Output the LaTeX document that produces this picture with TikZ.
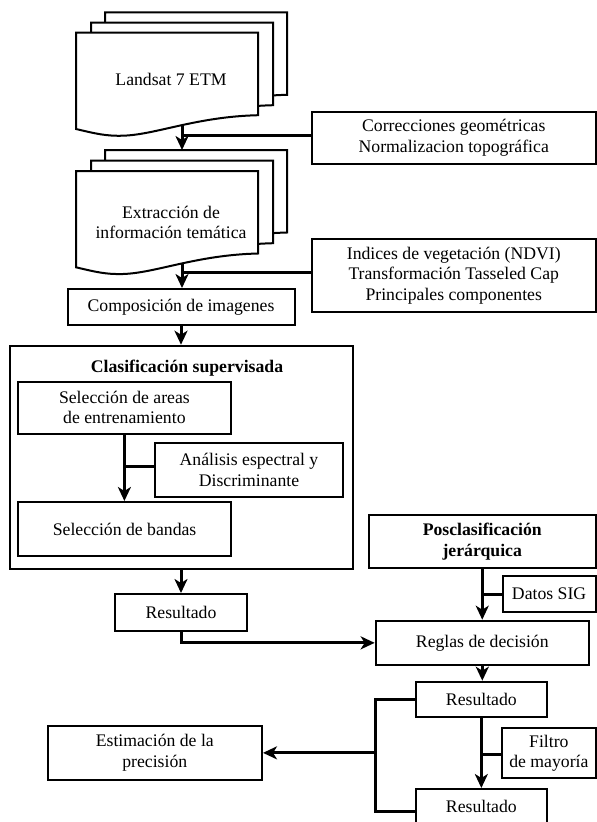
\documentclass[tikz,border=0pt]{standalone}
\usepackage{fontspec}
\setmainfont{Liberation Serif}
\usetikzlibrary{arrows.meta}
\begin{document}
\begin{tikzpicture}[x=1pt,y=-1pt,
  txt/.style={inner sep=0pt, align=center, font=\fontsize{17.7}{20.5}\selectfont},
  box/.style={txt, draw, line width=2pt, fill=white},
  bold/.style={font=\fontsize{17.7}{20.5}\selectfont\bfseries},
  conn/.style={line width=3pt, line join=miter},
  arr/.style={conn, -{Stealth[length=14pt,width=13pt,inset=4pt]}},
  docshape/.pic={\draw[line width=2pt, fill=white] (0,0) -- (182,0) -- (182,82.5)
     .. controls (120,84) and (80,102) .. (47,103)
     .. controls (30,103.5) and (20,101) .. (0,96.3) -- cycle;}
]
\useasboundingbox (0,0) rectangle (597,822);

% document stacks
\pic at (105,12.3) {docshape};
\pic at (91,22.7) {docshape};
\pic at (76,32.7) {docshape};
\pic at (105,150) {docshape};
\pic at (91,160.7) {docshape};
\pic at (76,171) {docshape};
\node[txt] (landsat) at (171,79) {Landsat 7 ETM};
\node[txt] (extr) at (171,222.5) {Extracción de\\información temática};

\coordinate (d1b) at (182,125);
\coordinate (d2t) at (182,150);
\coordinate (j1) at (182,135);
\coordinate (d2b) at (182,263);
\coordinate (j2) at (182,272.5);

% boxes
\node[box, minimum width=283.5, minimum height=52.3] (corr) at (453.75,137.85) {Correcciones geométricas\\Normalizacion topográfica};
\node[box, minimum width=283.5, minimum height=73.3] (ind) at (453.75,275.65) {Indices de vegetación (NDVI)\\Transformación Tasseled Cap\\Principales componentes};
\node[box, minimum width=227, minimum height=36] (comp) at (181,307) {Composición de imagenes};
\node[box, minimum width=343, minimum height=222.8] (clas) at (181.5,457.1) {};
\node[txt, bold] (clastitle) at (187,368) {Clasificación supervisada};
\node[box, minimum width=212.2, minimum height=52] (selA) at (124.4,407.5) {Selección de areas\\de entrenamiento};
\node[box, minimum width=188, minimum height=54] (anal) at (249,469.7) {Análisis espectral y\\Discriminante};
\node[box, minimum width=212.7, minimum height=54] (selB) at (124.6,529) {Selección de bandas};
\node[box, bold, minimum width=226.5, minimum height=53.3] (pos) at (482.25,541.7) {Posclasificación\\jerárquica};
\node[box, minimum width=132, minimum height=37] (res1) at (181,612.5) {Resultado};
\node[box, minimum width=92.8, minimum height=35.5] (datos) at (549.1,593.75) {Datos SIG};
\node[box, minimum width=213.3, minimum height=44.3] (reglas) at (482.3,642.85) {Reglas de decisión};
\node[box, minimum width=130.7, minimum height=35] (res2) at (481.35,699.2) {Resultado};
\node[box, minimum width=93.2, minimum height=50] (filtro) at (548.9,753.3) {Filtro\\de mayoría};
\node[box, minimum width=130.7, minimum height=35] (res3) at (481.35,806.5) {Resultado};
\node[box, minimum width=214.4, minimum height=54.3] (estim) at (154.8,752.85) {Estimación de la\\precisión};

\coordinate (j3) at (124.4,466);
\coordinate (j4) at (482.3,594.3);
\coordinate (j5) at (481.35,754.3);
\coordinate (bk1) at (375.7,699.2);
\coordinate (bk2) at (375.7,811.7);

% connectors
\draw[arr] (d1b) -- (d2t);
\draw[conn] (corr.west |- j1) -- (j1);
\draw[arr] (d2b) -- (d2b |- comp.north);
\draw[conn] (ind.west |- j2) -- (j2);
\draw[arr] (comp.south) -- (comp.south |- clas.north);
\draw[arr] (selA.south) -- (selA.south |- selB.north);
\draw[conn] (anal.west |- j3) -- (j3);
\draw[arr] (res1.north |- clas.south) -- (res1.north);
\draw[arr] (res1.south) |- (reglas.west);
\draw[arr] (pos.south) -- (pos.south |- reglas.north);
\draw[conn] (datos.west |- j4) -- (j4);
\draw[arr] (reglas.south) -- (reglas.south |- res2.north);
\draw[arr] (res2.south) -- (res3.north);
\draw[conn] (filtro.west |- j5) -- (j5);
\draw[conn] (res2.west) -- (bk1) -- (bk2) -- (bk2 -| res3.west);
\draw[arr] (estim.east -| bk1) -- (estim.east);
\end{tikzpicture}
\end{document}
